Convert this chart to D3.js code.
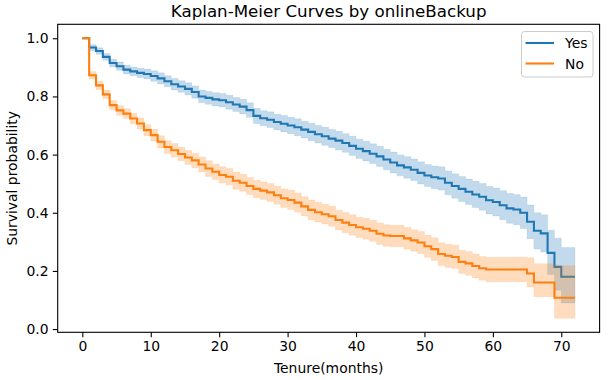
<!DOCTYPE html>
<html>
<head>
<meta charset="utf-8">
<script src="https://cdn.jsdelivr.net/npm/d3@7"></script>
<style>
  html, body { margin: 0; padding: 0; background: #fff; }
  svg { display: block; font-family: "DejaVu Sans", sans-serif; }
</style>
</head>
<body>
<svg id="chart" width="613" height="380"></svg>
<script>
// ---------- data ----------
const tenure = [0,1,2,3,4,5,6,7,8,9,10,11,12,13,14,15,16,17,18,19,20,21,22,23,24,25,26,27,28,29,30,31,32,33,34,35,36,37,38,39,40,41,42,43,44,45,46,47,48,49,50,51,52,53,54,55,56,57,58,59,60,61,62,63,64,65,66,67,68,69,70,71,72];

const yesSurv = [1.000,0.968,0.956,0.936,0.915,0.904,0.892,0.886,0.881,0.877,0.870,0.862,0.852,0.842,0.834,0.826,0.815,0.800,0.795,0.790,0.787,0.780,0.772,0.765,0.753,0.733,0.725,0.720,0.712,0.706,0.700,0.694,0.686,0.678,0.670,0.663,0.655,0.648,0.640,0.630,0.620,0.612,0.603,0.594,0.583,0.573,0.563,0.556,0.548,0.537,0.528,0.522,0.518,0.503,0.492,0.482,0.472,0.463,0.455,0.443,0.437,0.426,0.415,0.411,0.400,0.369,0.338,0.329,0.262,0.214,0.180,0.180,0.180];
const yesLower = [1.000,0.958,0.945,0.924,0.902,0.890,0.877,0.871,0.865,0.860,0.852,0.843,0.833,0.822,0.814,0.805,0.794,0.778,0.773,0.767,0.764,0.756,0.748,0.740,0.728,0.707,0.699,0.693,0.685,0.678,0.672,0.665,0.657,0.648,0.640,0.632,0.624,0.616,0.608,0.597,0.587,0.578,0.569,0.559,0.548,0.537,0.527,0.519,0.511,0.499,0.490,0.483,0.478,0.462,0.450,0.439,0.428,0.418,0.409,0.396,0.389,0.376,0.364,0.359,0.346,0.311,0.275,0.265,0.188,0.134,0.090,0.090,0.090];
const yesUpper = [1.000,0.978,0.967,0.948,0.928,0.918,0.907,0.901,0.897,0.894,0.888,0.881,0.871,0.862,0.854,0.847,0.836,0.822,0.817,0.813,0.810,0.804,0.796,0.790,0.778,0.759,0.751,0.747,0.739,0.734,0.728,0.723,0.715,0.708,0.700,0.694,0.686,0.680,0.672,0.663,0.653,0.646,0.637,0.629,0.618,0.609,0.599,0.593,0.585,0.575,0.566,0.561,0.558,0.544,0.534,0.525,0.516,0.508,0.501,0.490,0.485,0.476,0.466,0.463,0.454,0.427,0.400,0.393,0.340,0.312,0.281,0.281,0.281];

const noSurv = [1.000,0.873,0.838,0.807,0.770,0.752,0.741,0.724,0.707,0.684,0.667,0.644,0.626,0.615,0.602,0.590,0.580,0.566,0.552,0.541,0.530,0.524,0.510,0.503,0.492,0.482,0.476,0.470,0.460,0.450,0.444,0.435,0.422,0.410,0.402,0.395,0.388,0.375,0.366,0.358,0.350,0.345,0.338,0.328,0.322,0.320,0.320,0.312,0.305,0.298,0.285,0.275,0.258,0.252,0.248,0.231,0.226,0.217,0.209,0.205,0.205,0.205,0.205,0.205,0.205,0.191,0.160,0.160,0.160,0.108,0.108,0.108,0.108];
const noLower = [1.000,0.860,0.824,0.792,0.754,0.735,0.724,0.706,0.688,0.665,0.647,0.623,0.604,0.592,0.579,0.566,0.555,0.540,0.525,0.514,0.502,0.496,0.481,0.474,0.463,0.452,0.446,0.439,0.429,0.418,0.411,0.402,0.389,0.376,0.368,0.361,0.354,0.341,0.331,0.323,0.315,0.309,0.302,0.291,0.285,0.283,0.283,0.275,0.268,0.260,0.247,0.236,0.219,0.212,0.208,0.191,0.185,0.176,0.168,0.163,0.163,0.163,0.163,0.163,0.163,0.145,0.111,0.111,0.111,0.037,0.037,0.037,0.037];
const noUpper = [1.000,0.886,0.852,0.822,0.786,0.769,0.758,0.742,0.726,0.703,0.687,0.665,0.648,0.638,0.625,0.614,0.605,0.592,0.579,0.568,0.558,0.552,0.539,0.532,0.521,0.512,0.506,0.501,0.491,0.482,0.477,0.468,0.455,0.444,0.436,0.429,0.422,0.409,0.401,0.393,0.385,0.381,0.374,0.365,0.359,0.357,0.357,0.349,0.342,0.336,0.323,0.314,0.297,0.292,0.288,0.271,0.267,0.258,0.250,0.247,0.247,0.247,0.247,0.247,0.247,0.245,0.225,0.225,0.225,0.218,0.218,0.218,0.218];

const seriesNames = ["Yes", "No"];
const xTicks = [0,10,20,30,40,50,60,70];
const yTicks = [0.0,0.2,0.4,0.6,0.8,1.0];

// ---------- layout ----------
const L = 57.7, R = 599.6, T = 24.3, B = 332.3;
const colors = ["#1f77b4", "#ff7f0e"];

const svg = d3.select("#chart");
const x = d3.scaleLinear().domain([-3.6, 75.6]).range([L, R]);
const y = d3.scaleLinear().domain([-0.011, 1.048]).range([B, T]);

const series = [
  {name: seriesNames[0], surv: yesSurv, lo: yesLower, hi: yesUpper, color: colors[0]},
  {name: seriesNames[1], surv: noSurv, lo: noLower, hi: noUpper, color: colors[1]}
];

const clipId = "plotclip";
svg.append("defs").append("clipPath").attr("id", clipId)
  .append("rect").attr("x", L).attr("y", T).attr("width", R - L).attr("height", B - T);

const g = svg.append("g").attr("clip-path", `url(#${clipId})`);

const area = d3.area()
  .x(d => x(d.t)).y0(d => y(d.lo)).y1(d => y(d.hi))
  .curve(d3.curveStepAfter);
const line = d3.line()
  .x(d => x(d.t)).y(d => y(d.s))
  .curve(d3.curveStepAfter);

series.forEach(s => {
  const pts = tenure.map((t, i) => ({t, s: s.surv[i], lo: s.lo[i], hi: s.hi[i]}));
  g.append("path").datum(pts)
    .attr("d", area)
    .attr("fill", s.color).attr("fill-opacity", 0.27)
    .attr("stroke", s.color).attr("stroke-opacity", 0.1).attr("stroke-width", 1);
  g.append("path").datum(pts)
    .attr("d", line)
    .attr("fill", "none").attr("stroke", s.color).attr("stroke-width", 2.1)
    .attr("stroke-linejoin", "miter");
});

// ---------- axes ----------
const fs = 13.9;
const xAxis = d3.axisBottom(x).tickValues(xTicks).tickSize(4.9).tickPadding(4.2)
  .tickFormat(d3.format("d"));
const gx = svg.append("g").attr("transform", `translate(0,${B})`).call(xAxis);
gx.select(".domain").remove();
gx.selectAll(".tick line").attr("stroke", "#000").attr("stroke-width", 1.1);
gx.selectAll(".tick text").attr("fill", "#000").attr("font-size", fs)
  .attr("font-family", "DejaVu Sans, sans-serif");

const yAxis = d3.axisLeft(y).tickValues(yTicks).tickSize(4.9).tickPadding(4.2)
  .tickFormat(d3.format(".1f"));
const gy = svg.append("g").attr("transform", `translate(${L},0)`).call(yAxis);
gy.select(".domain").remove();
gy.selectAll(".tick line").attr("stroke", "#000").attr("stroke-width", 1.1);
gy.selectAll(".tick text").attr("fill", "#000").attr("font-size", fs)
  .attr("font-family", "DejaVu Sans, sans-serif");

// frame
svg.append("rect").attr("x", L).attr("y", T).attr("width", R - L).attr("height", B - T)
  .attr("fill", "none").attr("stroke", "#000").attr("stroke-width", 1.1);

// labels
svg.append("text").attr("x", (L + R) / 2).attr("y", 16.5).attr("text-anchor", "middle")
  .attr("font-size", 16.7).attr("fill", "#000").text("Kaplan-Meier Curves by onlineBackup");
svg.append("text").attr("x", (L + R) / 2).attr("y", 373).attr("text-anchor", "middle")
  .attr("font-size", fs).attr("fill", "#000").text("Tenure(months)");
svg.append("text").attr("transform", `translate(17,${(T + B) / 2}) rotate(-90)`)
  .attr("text-anchor", "middle").attr("font-size", fs).attr("fill", "#000")
  .text("Survival probability");

// legend
const lg = svg.append("g");
const lx = 521.5, ly = 31.5, lw = 71.5, lh = 45.5;
lg.append("rect").attr("x", lx).attr("y", ly).attr("width", lw).attr("height", lh)
  .attr("rx", 3).attr("fill", "#fff").attr("fill-opacity", 0.8)
  .attr("stroke", "#cccccc").attr("stroke-width", 1);
series.forEach((s, i) => {
  const yy = 43 + i * 20.5;
  lg.append("line").attr("x1", lx + 4).attr("x2", lx + 32.5).attr("y1", yy).attr("y2", yy)
    .attr("stroke", s.color).attr("stroke-width", 2.1);
  lg.append("text").attr("x", lx + 43.5).attr("y", yy + 5).attr("font-size", fs)
    .attr("fill", "#000").text(s.name);
});
</script>
</body>
</html>
